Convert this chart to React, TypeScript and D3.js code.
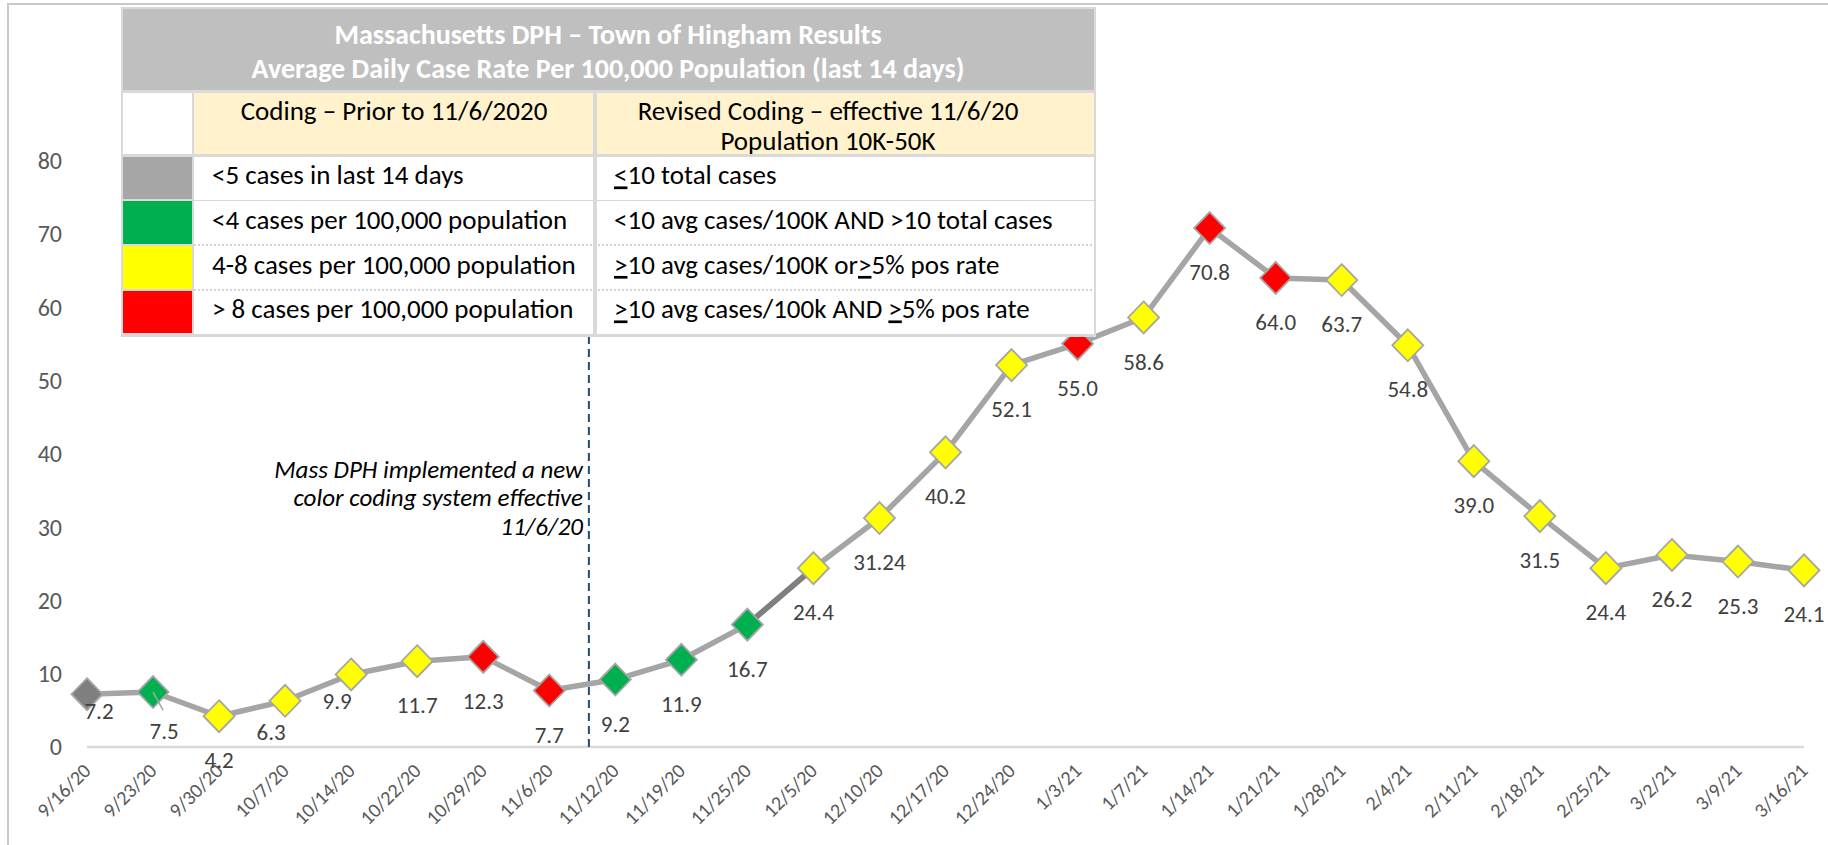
import React from "react";
import * as d3 from "d3";

const dates = [
  "9/16/20", "9/23/20", "9/30/20", "10/7/20", "10/14/20", "10/22/20", "10/29/20", "11/6/20",
  "11/12/20", "11/19/20", "11/25/20", "12/5/20", "12/10/20", "12/17/20", "12/24/20", "1/3/21",
  "1/7/21", "1/14/21", "1/21/21", "1/28/21", "2/4/21", "2/11/21", "2/18/21", "2/25/21",
  "3/2/21", "3/9/21", "3/16/21",
];
const values = [
  7.2, 7.5, 4.2, 6.3, 9.9, 11.7, 12.3, 7.7, 9.2, 11.9, 16.7, 24.4, 31.24, 40.2, 52.1, 55.0,
  58.6, 70.8, 64.0, 63.7, 54.8, 39.0, 31.5, 24.4, 26.2, 25.3, 24.1,
];
const valueLabels = [
  "7.2", "7.5", "4.2", "6.3", "9.9", "11.7", "12.3", "7.7", "9.2", "11.9", "16.7", "24.4", "31.24",
  "40.2", "52.1", "55.0", "58.6", "70.8", "64.0", "63.7", "54.8", "39.0", "31.5", "24.4", "26.2",
  "25.3", "24.1",
];
const levels = [
  "gray", "green", "yellow", "yellow", "yellow", "yellow", "red", "red", "green", "green", "green",
  "yellow", "yellow", "yellow", "yellow", "red", "yellow", "red", "red", "yellow", "yellow",
  "yellow", "yellow", "yellow", "yellow", "yellow", "yellow",
];
const yTicks = [0, 10, 20, 30, 40, 50, 60, 70, 80];
const darkSegmentFrom = "11/25/20";
const codingChangeAfter = "11/6/20";

const titleLines = [
  "Massachusetts DPH \u2013 Town of Hingham Results",
  "Average Daily Case Rate Per 100,000 Population (last 14 days)",
];
const priorHeader = ["Coding \u2013 Prior to 11/6/2020"];
const revisedHeader = ["Revised Coding \u2013 effective 11/6/20", "Population 10K-50K"];
const legendLevels = ["gray", "green", "yellow", "red"];
const priorCoding = [
  "<5 cases in last 14 days",
  "<4 cases per 100,000 population",
  "4-8 cases per 100,000 population",
  "> 8 cases per 100,000 population",
];
// "_x_" marks an underlined character (the "or equal" sign of the original)
const revisedCoding = [
  "_<_10 total cases",
  "<10 avg cases/100K AND >10 total cases",
  "_>_10 avg cases/100K or_>_5% pos rate",
  "_>_10 avg cases/100k AND _>_5% pos rate",
];
const annotationLines = ["Mass DPH implemented a new", "color coding system effective", "11/6/20"];

const markerFill: Record<string, string> = {
  gray: "#7F7F7F",
  green: "#00B050",
  yellow: "#FFFF00",
  red: "#FF0000",
};
const swatchFill: Record<string, string> = {
  gray: "#A6A6A6",
  green: "#00B050",
  yellow: "#FFFF00",
  red: "#FF0000",
};

const FONT = "Carlito, Lato, 'Open Sans', sans-serif";

function segments(s: string) {
  const parts = s.split("_");
  return parts.map((t, i) => ({ t, u: i % 2 === 1 })).filter((p) => p.t.length > 0);
}

export default function App() {
  const W = 1828;
  const H = 845;
  const x = d3.scalePoint<string>().domain(dates).range([87, 1804]);
  const y = d3.scaleLinear().domain([0, 80]).range([747, 160.6]);
  const step = x.step();

  const pts = values.map((v, i) => [x(dates[i]) as number, y(v)] as [number, number]);
  const line = d3.line<[number, number]>().x((d) => d[0]).y((d) => d[1]);
  const di = dates.indexOf(darkSegmentFrom);
  const dashX = (x(codingChangeAfter) as number) + step * 0.6;

  // label nudges (dx, dy) relative to marker centre
  const labelNudge: Record<number, [number, number]> = {
    0: [12, 17],
    1: [11, 39],
    3: [-14, 31],
    4: [-14, 27],
  };

  // table geometry
  const tL = 122, tR = 1095, c1 = 193, c2 = 595;
  const rowsY = [157, 201, 246, 291, 335];

  return (
    <div style={{ position: "absolute", left: 0, top: 0 }}>
      <svg width={W} height={H} style={{ display: "block", background: "#fff" }} fontFamily={FONT}>
        {/* outer frame */}
        <rect x={8} y={4} width={W + 20} height={H + 20} fill="none" stroke="#C8C8C8" strokeWidth={2} />

        {/* y tick labels */}
        {yTicks.map((t) => (
          <text key={t} x={62} y={y(t)} dy="0.35em" textAnchor="end" fontSize={24} fill="#595959">
            {t}
          </text>
        ))}

        {/* x axis line */}
        <line x1={87} x2={1804} y1={y(0)} y2={y(0)} stroke="#D9D9D9" strokeWidth={2.5} />

        {/* x tick labels */}
        {dates.map((d) => {
          const px = (x(d) as number) + 5;
          const py = 772;
          return (
            <text
              key={d}
              x={px}
              y={py}
              transform={`rotate(-45, ${px}, ${py})`}
              textAnchor="end"
              fontSize={20}
              fill="#595959"
            >
              {d}
            </text>
          );
        })}

        {/* coding change dashed line */}
        <line x1={dashX} x2={dashX} y1={336} y2={y(0)} stroke="#1F4E79" strokeWidth={2} strokeDasharray="8,5" />

        {/* annotation */}
        {annotationLines.map((l, i) => (
          <text key={i} x={583} y={469 + i * 28.5} dy="0.35em" textAnchor="end" fontSize={25} fontStyle="italic" fill="#000">
            {l}
          </text>
        ))}

        {/* series line */}
        <path d={line(pts) || ""} fill="none" stroke="#A5A5A5" strokeWidth={5.5} strokeLinejoin="round" />
        <path d={line(pts.slice(di, di + 2)) || ""} fill="none" stroke="#7F7F7F" strokeWidth={5.5} />

        {/* markers */}
        {pts.map(([px, py], i) => (
          <path
            key={i}
            d={`M${px},${py - 16}L${px + 15.5},${py}L${px},${py + 16}L${px - 15.5},${py}Z`}
            fill={markerFill[levels[i]]}
            stroke="#A5A5A5"
            strokeWidth={1.8}
          />
        ))}

        {/* leader line for 7.5 */}
        <line x1={pts[1][0]} y1={pts[1][1]} x2={pts[1][0] + 10} y2={pts[1][1] + 18} stroke="#A5A5A5" strokeWidth={1.5} />

        {/* data labels */}
        {pts.map(([px, py], i) => {
          const [dx, dy] = labelNudge[i] || [0, 44];
          return (
            <text key={i} x={px + dx} y={py + dy} dy="0.35em" textAnchor="middle" fontSize={23} fill="#404040">
              {valueLabels[i]}
            </text>
          );
        })}

        {/* ---- coding table ---- */}
        <rect x={tL - 1} y={7} width={tR - tL + 2} height={330} fill="#D9D9D9" />
        <rect x={tL + 1} y={9} width={tR - tL - 2} height={81} fill="#BFBFBF" />
        {titleLines.map((t, i) => (
          <text key={i} x={608} y={34 + i * 34} dy="0.35em" textAnchor="middle" fontSize={28} fontWeight="bold" fill="#fff">
            {t}
          </text>
        ))}
        {/* column header row */}
        <rect x={tL + 1} y={93} width={c1 - tL - 2} height={61} fill="#fff" />
        <rect x={c1 + 1} y={93} width={c2 - c1 - 3} height={61} fill="#FFF2CC" />
        <rect x={c2 + 2} y={93} width={tR - c2 - 3} height={61} fill="#FFF2CC" />
        {priorHeader.map((t, i) => (
          <text key={i} x={(c1 + c2) / 2} y={111 + i * 30} dy="0.35em" textAnchor="middle" fontSize={27} fill="#000">
            {t}
          </text>
        ))}
        {revisedHeader.map((t, i) => (
          <text key={i} x={828} y={111 + i * 30} dy="0.35em" textAnchor="middle" fontSize={27} fill="#000">
            {t}
          </text>
        ))}
        {/* legend rows */}
        {legendLevels.map((lv, i) => {
          const top = rowsY[i];
          const bot = rowsY[i + 1];
          const dotted = i >= 1 && i < 3;
          return (
            <g key={lv}>
              <rect x={tL + 1} y={top} width={c1 - tL - 2} height={bot - top - 2} fill={swatchFill[lv]} />
              <rect x={c1 + 1} y={top} width={c2 - c1 - 3} height={bot - top - (dotted ? 0 : 1)} fill="#fff" />
              <rect x={c2 + 2} y={top} width={tR - c2 - 3} height={bot - top - (dotted ? 0 : 1)} fill="#fff" />
              {dotted && (
                <line x1={c1 + 1} x2={tR - 2} y1={bot - 1} y2={bot - 1} stroke="#C8C8C8" strokeWidth={1.5} strokeDasharray="2,2" />
              )}
              <text x={212} y={(top + bot) / 2 - 4} dy="0.35em" fontSize={27} fill="#000">
                {priorCoding[i]}
              </text>
              <text x={614} y={(top + bot) / 2 - 4} dy="0.35em" fontSize={27} fill="#000">
                {segments(revisedCoding[i]).map((s, k) => (
                  <tspan key={k} textDecoration={s.u ? "underline" : undefined}>
                    {s.t}
                  </tspan>
                ))}
              </text>
            </g>
          );
        })}
        <line x1={c2 + 0.5} x2={c2 + 0.5} y1={93} y2={336} stroke="#D9D9D9" strokeWidth={3} />
      </svg>
    </div>
  );
}
